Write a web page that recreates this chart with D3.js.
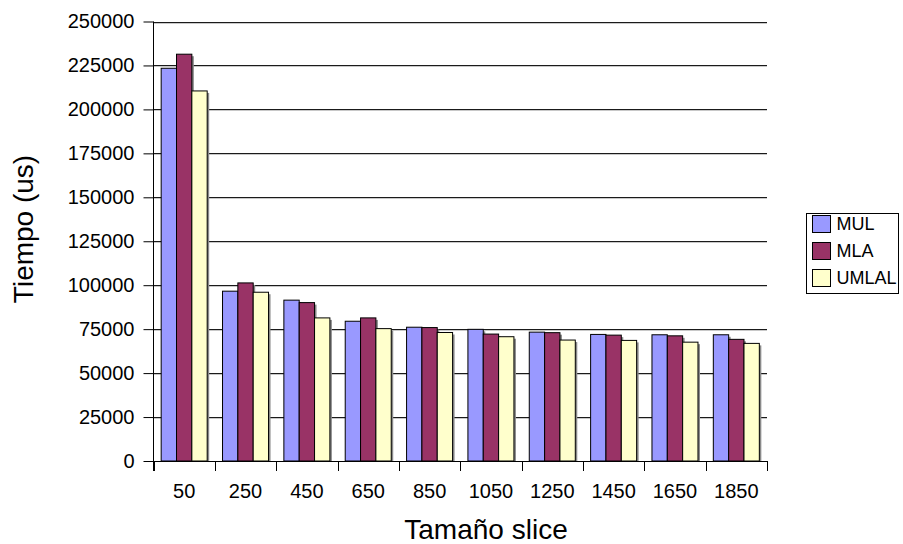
<!DOCTYPE html>
<html><head><meta charset="utf-8">
<script src="https://cdn.jsdelivr.net/npm/d3@7"></script>
<style>body{margin:0;background:#fff;} text{font-family:Arial,"Liberation Sans",sans-serif;fill:#000;}</style>
</head><body><svg id="c" width="903" height="544"></svg>
<script>
const categories = ["50","250","450","650","850","1050","1250","1450","1650","1850"];
const seriesNames = ["MUL","MLA","UMLAL"];
const MUL   = [223400, 96600, 91500, 79500, 76100, 74900, 73300, 72000, 71800, 71800];
const MLA   = [231400, 101300, 90100, 81400, 75900, 72200, 73000, 71600, 71200, 69200];
const UMLAL = [210500, 96000, 81400, 75300, 73100, 70700, 68800, 68600, 67600, 66900];
const yTicks = [0,25000,50000,75000,100000,125000,150000,175000,200000,225000,250000];
const colors = ["#9999FF","#993366","#FFFFCC"];
const seriesValues = [MUL, MLA, UMLAL];

const svg = d3.select("#c");
const L = 153.5, R = 767, T = 21.5, B = 461;
const x = d3.scaleBand().domain(categories).range([L, R]).paddingInner(0).paddingOuter(0);
const x1 = d3.scaleBand().domain(seriesNames).range([0, x.bandwidth()]).paddingInner(0).paddingOuter(0.5);
const y = d3.scaleLinear().domain([0,250000]).range([B, T]);

// gridlines
const g = svg.append("g");
yTicks.filter(d=>d>0).forEach(d=>{
  const yy = Math.round(y(d));
  g.append("line").attr("x1",L).attr("x2",R).attr("y1",yy+1.5).attr("y2",yy+1.5).attr("stroke","#c8c8c8");
  g.append("line").attr("x1",L).attr("x2",R).attr("y1",yy+0.5).attr("y2",yy+0.5).attr("stroke","#1a1a1a");
});

// bars
const data = [];
categories.forEach((c,i)=>seriesNames.forEach((s,j)=>data.push({c,s,j,v:seriesValues[j][i]})));
const bars = svg.append("g");
bars.selectAll("rect.sh").data(data).join("rect").attr("class","sh")
  .attr("x",d=>x(d.c)+x1(d.s)+2).attr("y",d=>y(d.v)+2)
  .attr("width",x1.bandwidth()).attr("height",d=>B-y(d.v)-2).attr("fill","#8a8a8a");
bars.selectAll("rect.b").data(data).join("rect").attr("class","b")
  .attr("x",d=>x(d.c)+x1(d.s)).attr("y",d=>y(d.v))
  .attr("width",x1.bandwidth()).attr("height",d=>B-y(d.v))
  .attr("fill",d=>colors[d.j]).attr("stroke","#000").attr("stroke-width",1);

// y axis
const ya = svg.append("g").attr("transform",`translate(${L},0)`)
  .call(d3.axisLeft(y).tickValues(yTicks).tickSize(10).tickPadding(9).tickFormat(d3.format("d")));
ya.select(".domain").remove();
ya.append("line").attr("x1",0).attr("x2",0).attr("y1",T).attr("y2",B+10).attr("stroke","#000");
ya.selectAll(".tick line").attr("stroke","#000");
ya.selectAll("text").attr("font-size",20).attr("font-family","Arial,'Liberation Sans',sans-serif");

// x axis
const xa = svg.append("g").attr("transform",`translate(0,${B})`)
  .call(d3.axisBottom(x).tickSize(0).tickPadding(23));
xa.select(".domain").remove();
xa.append("line").attr("x1",L).attr("x2",R).attr("y1",0.5).attr("y2",0.5).attr("stroke","#000");
xa.selectAll("text").attr("font-size",20).attr("font-family","Arial,'Liberation Sans',sans-serif");
const bounds = categories.map(c=>x(c)).concat([R]);
xa.selectAll("line.bt").data(bounds).join("line").attr("class","bt")
  .attr("x1",d=>Math.round(d)+0.5).attr("x2",d=>Math.round(d)+0.5).attr("y1",0).attr("y2",10).attr("stroke","#000");

// titles
svg.append("text").attr("x",486).attr("y",539).attr("text-anchor","middle").attr("font-size",28).text("Tamaño slice");
svg.append("text").attr("transform","translate(33,229) rotate(-90)").attr("text-anchor","middle").attr("font-size",28).text("Tiempo (us)");

// legend
const lg = svg.append("g");
lg.append("rect").attr("x",806.5).attr("y",213.5).attr("width",92).attr("height",80).attr("fill","#fff").attr("stroke","#000");
seriesNames.forEach((s,j)=>{
  const yy = 215 + j*27;
  lg.append("rect").attr("x",812.5).attr("y",yy+0.5).attr("width",18).attr("height",17).attr("fill",colors[j]).attr("stroke","#000");
  lg.append("text").attr("x",836.5).attr("y",yy+15).attr("font-size",18).text(s);
});
</script></body></html>
